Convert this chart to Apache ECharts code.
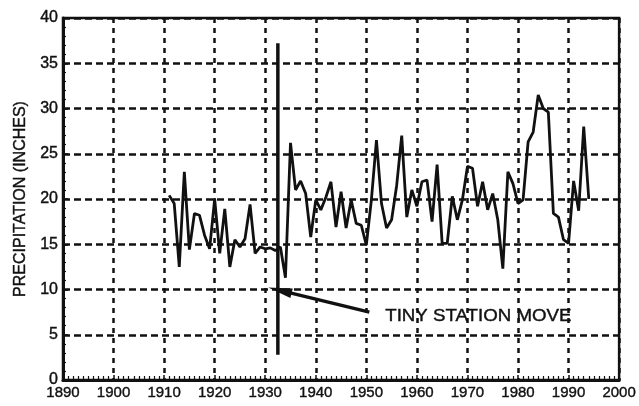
<!DOCTYPE html>
<html>
<head>
<meta charset="utf-8">
<script src="https://cdn.jsdelivr.net/npm/echarts@6/dist/echarts.min.js"></script>
<style>
html,body{margin:0;padding:0;background:#fff;}
#c{width:639px;height:406px;}
</style>
</head>
<body>
<div id="c"></div>
<script>
const years = [];
for (let y = 1911; y <= 1994; y++) years.push(y);
const precip = [
  20.4, 19.5, 12.5, 23.0, 14.4, 18.4, 18.2, 16.0, 14.5, 20.0,
  14.0, 18.9, 12.5, 15.5, 14.7, 15.6, 19.4, 14.0, 14.7, 14.5,
  14.6, 14.3, 14.7, 11.3, 26.2, 21.0, 22.0, 20.6, 15.8, 19.9,
  18.8, 20.2, 21.9, 16.9, 20.8, 16.8, 19.9, 17.3, 17.1, 14.9,
  19.9, 26.5, 19.5, 16.8, 17.7, 21.5, 27.0, 18.0, 21.0, 19.2,
  21.9, 22.1, 17.5, 23.8, 15.1, 15.1, 20.3, 17.7, 19.9, 23.6,
  23.4, 19.2, 21.9, 18.8, 20.6, 17.7, 12.3, 23.0, 21.7, 19.5,
  19.9, 26.3, 27.4, 31.5, 30.0, 29.6, 18.4, 18.0, 15.5, 15.1,
  22.0, 18.7, 28.0, 20.0
];
const yTicks = [0, 5, 10, 15, 20, 25, 30, 35, 40];
const xTicks = [1890, 1900, 1910, 1920, 1930, 1940, 1950, 1960, 1970, 1980, 1990, 2000];
const moveYear = 1932.5;
const moveRange = [2.8, 37.2];
const arrowFrom = [1950.6, 7.5];
const arrowTo = [1932.9, 9.9];
const noteText = 'TINY STATION MOVE';

const FONT = '"Liberation Sans", Arial, sans-serif';
const INK = '#111';
const bold = { textBorderColor: INK, textBorderWidth: 0.4 };

const chart = echarts.init(document.getElementById('c'));
chart.setOption({
  backgroundColor: '#fff',
  animation: false,
  grid: { left: 63, right: 15, top: 18, bottom: 26, show: true, borderColor: INK, borderWidth: 2.5, backgroundColor: 'transparent' },
  xAxis: {
    type: 'value', min: xTicks[0], max: xTicks[xTicks.length - 1], interval: 10,
    axisLine: { lineStyle: { color: INK, width: 3 } },
    axisTick: { show: true, inside: true, length: 5, lineStyle: { color: INK, width: 1.5 } },
    minorTick: { show: true, splitNumber: 10, length: 4, lineStyle: { color: INK, width: 1.2 } },
    axisLabel: Object.assign({ color: INK, fontFamily: FONT, fontSize: 15, margin: 5, formatter: v => String(v) }, bold),
    splitLine: { show: true, lineStyle: { color: INK, width: 2.5, type: [5, 5] } }
  },
  yAxis: {
    type: 'value', min: yTicks[0], max: yTicks[yTicks.length - 1], interval: 5,
    name: 'PRECIPITATION (INCHES)', nameLocation: 'middle', nameGap: 34, nameRotate: 90,
    nameTextStyle: Object.assign({ color: INK, fontFamily: FONT, fontSize: 16 }, bold),
    axisLine: { show: true, lineStyle: { color: INK, width: 3 } },
    axisTick: { show: true, inside: true, length: 5, lineStyle: { color: INK, width: 1.5 } },
    minorTick: { show: true, splitNumber: 5, length: 3, lineStyle: { color: INK, width: 1.2 } },
    axisLabel: Object.assign({ color: INK, fontFamily: FONT, fontSize: 16, margin: 5 }, bold),
    splitLine: { show: true, lineStyle: { color: INK, width: 2.5, type: [7, 4] } }
  },
  series: [
    {
      type: 'line', showSymbol: false, symbol: 'none',
      data: years.map((y, i) => [y, precip[i]]),
      lineStyle: { color: INK, width: 2.8 }
    },
    {
      type: 'line', showSymbol: false, symbol: 'none',
      data: [[moveYear, moveRange[1]], [moveYear, moveRange[0]]],
      lineStyle: { color: INK, width: 3.5 },
      markLine: {
        silent: true, animation: false,
        symbol: ['none', 'triangle'], symbolSize: [10, 24],
        lineStyle: { color: INK, width: 3.5, type: 'solid' },
        label: { show: false },
        data: [[{ coord: arrowFrom }, { coord: arrowTo }]]
      }
    }
  ],
  graphic: [
    { type: 'text', left: 385, top: 308, scaleX: 1.1,
      style: { text: noteText, fill: INK, font: '17px ' + FONT, stroke: INK, lineWidth: 0.4 } }
  ]
});
</script>
</body>
</html>
